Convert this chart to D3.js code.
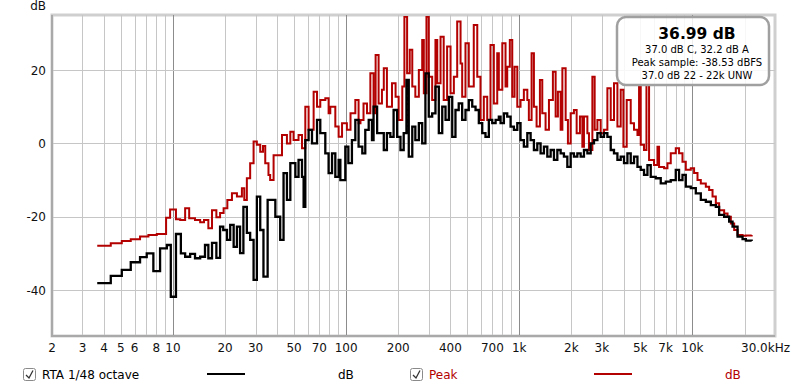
<!DOCTYPE html>
<html>
<head>
<meta charset="utf-8">
<script src="https://cdn.jsdelivr.net/npm/d3@7/dist/d3.min.js"></script>
<style>
  body { margin: 0; background: #fff; }
  text { font-family: "DejaVu Sans", sans-serif; }
</style>
</head>
<body>
<script>
"use strict";

// RTA 1/48 octave (black)
const rtaFreq = [
  3.65, 4.37, 5.06, 5.70, 6.45, 7.05, 7.70, 8.42, 9.21, 9.71,
  10.4, 11.1, 11.75, 12.56, 13.4, 14.35, 15.3, 16.0, 16.8, 17.8,
  18.7, 19.5, 20.5, 21.4, 22.4, 23.4, 24.4, 25.5, 26.7, 27.9,
  29.2, 30.5, 31.9, 33.3, 35.2, 37.3, 39.0, 41.6, 43.5, 45.5,
  47.6, 50.9, 53.1, 55.6, 56.8, 58.1, 60.7, 63.5, 67.9, 70.9,
  75.8, 79.2, 82.9, 86.6, 90.5, 92.6, 98.9, 103, 108, 113,
  118, 124, 129, 135, 141, 144, 151, 158, 165, 172,
  180, 188, 197, 206, 215, 223, 230, 241, 251, 263,
  275, 287, 300, 314, 328, 343, 359, 375, 392, 410,
  428, 447, 468, 489, 511, 535, 559, 584, 611, 638,
  667, 698, 730, 762, 780, 815, 852, 891, 931, 974,
  1017, 1063, 1113, 1163, 1215, 1271, 1328, 1388, 1452, 1518,
  1586, 1659, 1734, 1811, 1895, 1981, 2069, 2165, 2262, 2364,
  2474, 2585, 2701, 2827, 2953, 3086, 3228, 3375, 3525, 3689,
  3854, 4027, 4214, 4403, 4601, 4815, 5030, 5255, 5500, 5746,
  6141, 6565, 7018, 7499, 8016, 8375, 8765, 9159, 9788, 10464,
  11184, 11954, 12777, 13655, 14269, 15253, 16302, 17058, 18232, 19486,
  20362, 22000
];
const rtaDb = [
  -38.1, -36.1, -34.5, -32.4, -31.0, -30.0, -34.8, -28.6, -27.7, -41.8,
  -24.7, -30.0, -30.9, -30.1, -31.3, -30.9, -27.7, -31.3, -27.1, -31.2,
  -22.7, -23.6, -26.3, -22.2, -28.2, -22.7, -29.9, -17.3, -24.4, -26.3,
  -37.2, -14.5, -23.6, -36.3, -15.4, -15.4, -20.0, -26.3, -8.1, -15.4,
  -5.4, -9.1, -4.5, -9.1, -17.3, 0.9, 3.7, 0.0, 6.4, 2.8,
  -2.7, -8.1, -2.7, -9.1, -4.5, -10.0, -0.9, -5.4, 0.9, 6.4,
  -0.9, -2.7, 3.7, 6.4, 0.9, 10.0, 2.8, 2.8, -1.8, 2.8,
  1.8, 9.1, 1.8, -1.8, 2.8, 17.3, -3.6, 4.6, 0.9, 5.5,
  0.0, 19.1, 7.3, 8.2, 15.5, 2.8, 10.0, 6.4, 12.7, 1.8,
  9.1, 10.9, 6.4, 9.1, 11.8, 10.0, 9.1, 5.5, 2.8, 1.8,
  6.4, 5.5, 6.4, 7.3, 5.5, 8.2, 7.3, 4.6, 3.7, 5.5,
  0.9, -0.9, 2.8, 0.9, -1.8, 0.0, -2.7, -0.9, -3.6, -1.8,
  -4.5, -1.8, -2.7, -3.6, -6.4, -2.7, -3.6, -2.7, -3.6, -1.8,
  -2.7, 0.0, 0.9, 2.8, 1.8, 2.8, 1.8, -1.8, -2.7, -4.5,
  -3.6, -5.4, -2.7, -5.4, -3.6, -6.4, -7.2, -8.6, -5.9, -9.1,
  -9.5, -10.9, -10.4, -10.0, -7.2, -10.0, -8.6, -11.8, -12.2, -13.6,
  -15.4, -15.9, -16.8, -17.3, -19.5, -20.0, -21.3, -22.7, -25.4, -26.1,
  -26.5, -26.6
];

// Peak (red)
const peakFreq = [
  3.65, 4.37, 5.06, 5.70, 6.45, 7.21, 8.06, 9.12, 9.62, 10.4,
  11.0, 11.75, 12.4, 13.4, 14.35, 15.1, 16.0, 16.8, 17.8, 18.7,
  19.6, 20.6, 21.9, 23.4, 25.0, 25.8, 26.7, 27.9, 29.2, 30.5,
  31.9, 33.1, 34.1, 35.6, 36.4, 38.1, 39.9, 42.6, 45.5, 47.6,
  49.7, 53.1, 55.6, 58.1, 60.7, 64.9, 67.9, 70.9, 75.8, 79.2,
  81.0, 86.6, 90.5, 94.7, 101, 106, 113, 118, 121, 126,
  132, 138, 144, 148, 154, 161, 165, 172, 184, 193,
  201, 211, 217, 225, 233, 241, 251, 263, 275, 281,
  291, 300, 314, 328, 336, 351, 366, 383, 401, 419,
  438, 458, 468, 489, 511, 546, 572, 597, 624, 653,
  682, 713, 746, 762, 798, 833, 852, 882, 911, 939,
  974, 1017, 1063, 1113, 1136, 1178, 1215, 1259, 1316, 1358,
  1419, 1484, 1564, 1622, 1672, 1734, 1774, 1853, 1910, 1981,
  2069, 2145, 2241, 2314, 2364, 2474, 2527, 2644, 2726, 2827,
  2953, 3086, 3228, 3375, 3525, 3689, 3854, 3995, 4174, 4403,
  4601, 4815, 4919, 5030, 5255, 5427, 5620, 6004, 6284, 6419,
  6862, 7178, 7499, 8016, 8375, 8765, 9159, 9788, 10228, 10703,
  11184, 11954, 12492, 13071, 13655, 14269, 15253, 15959, 16680, 17431,
  18232, 19486, 20362, 22000
];
const peakDb = [
  -27.9, -27.2, -26.6, -26.1, -25.4, -25.0, -24.7, -20.3, -18.0, -20.7,
  -20.9, -17.7, -20.4, -20.9, -21.5, -20.9, -23.1, -18.2, -20.1, -19.0,
  -17.7, -15.4, -13.6, -14.5, -12.2, -15.4, -9.5, -5.4, 0.5, -0.4,
  -2.3, -0.7, -5.4, -8.6, -10.0, -3.2, -3.2, 2.3, 0.0, 3.2,
  0.9, 2.3, -1.3, 10.0, 3.7, 14.1, 10.0, 11.8, 12.3, 8.2,
  10.0, 4.6, 1.8, 5.5, 3.7, 8.2, 11.8, 5.5, 6.4, 10.9,
  8.2, 19.1, 8.2, 24.1, 10.9, 14.6, 20.5, 10.0, 16.4, 12.7,
  6.4, 15.5, 34.5, 19.1, 25.5, 15.5, 12.7, 20.0, 28.2, 13.7,
  34.5, 18.2, 11.8, 28.2, 16.4, 29.1, 11.8, 26.4, 13.7, 18.2,
  33.2, 21.8, 12.7, 27.3, 15.5, 32.3, 18.2, 6.4, 12.7, 6.4,
  26.8, 10.9, 24.6, 14.6, 27.3, 15.5, 20.9, 28.2, 12.7, 20.9,
  10.0, 11.8, 14.6, 11.8, 6.4, 24.6, 10.0, 4.6, 17.3, 8.2,
  3.7, 11.8, 19.5, 7.3, 14.1, 3.7, 20.5, 6.4, 0.0, 8.2,
  9.1, 2.8, 7.3, -0.9, 7.3, 2.8, -1.8, 18.2, 3.7, 6.4,
  2.8, 3.7, 15.0, 6.4, 16.4, 4.6, 14.6, -0.9, 11.8, 5.5,
  3.7, 2.3, 15.4, -0.4, -1.8, 15.9, -4.5, -5.9, -0.9, -6.4,
  -6.8, -5.4, -2.7, -1.3, -2.7, -5.0, -7.2, -6.8, -8.1, -10.0,
  -10.9, -11.8, -12.7, -14.5, -16.3, -18.2, -19.1, -20.0, -21.8, -23.6,
  -25.0, -25.2, -25.1, -25.0
];

const freqTicks = [2, 3, 4, 5, 6, 8, 10, 20, 30, 50, 70, 100, 200, 400, 700,
  1000, 2000, 3000, 5000, 7000, 10000];
const freqLabels = ["2", "3", "4", "5", "6", "8", "10", "20", "30", "50", "70", "100",
  "200", "400", "700", "1k", "2k", "3k", "5k", "7k", "10k"];
const dbTicks = [-40, -20, 0, 20];
const infoLines = ["36.99 dB", "37.0 dB C, 32.2 dB A", "Peak sample: -38.53 dBFS",
  "37.0 dB 22 - 22k UNW"];

const red = "#b30000";

let svg = d3
  .select("body")
  .append("svg")
  .attr("width", 800)
  .attr("height", 390);

const x = d3.scaleLog().domain([2, 30000]).range([52, 775]);
const y = d3.scaleLinear().domain([-52.5, 35]).range([336, 15]);

// plot background + frame
svg.append("rect")
  .attr("x", 52).attr("y", 15)
  .attr("width", 723).attr("height", 321)
  .attr("fill", "#fff")
  .attr("stroke", "#cfcfcf")
  .attr("stroke-width", 3);

// vertical grid: every 1..9 step in each decade
let gridFreqs = [];
[1, 10, 100, 1000, 10000].forEach(d => {
  for (let m = 1; m <= 9; m++) {
    let f = m * d;
    if (f > 2 && f < 30000) gridFreqs.push(f);
  }
});

let grid = svg.append("g");
grid.selectAll(".vgrid")
  .data(gridFreqs)
  .enter()
  .append("line")
  .attr("x1", d => Math.round(x(d)) + 0.5)
  .attr("x2", d => Math.round(x(d)) + 0.5)
  .attr("y1", 15)
  .attr("y2", 336)
  .attr("stroke", d => [10, 100, 1000, 10000].includes(d) ? "#8c8c8c" : "#c6c6c6")
  .attr("stroke-width", 1);

grid.selectAll(".hgrid")
  .data(dbTicks)
  .enter()
  .append("line")
  .attr("x1", 52)
  .attr("x2", 775)
  .attr("y1", d => Math.round(y(d)) + 0.5)
  .attr("y2", d => Math.round(y(d)) + 0.5)
  .attr("stroke", "#c6c6c6");

// darker left / bottom edge
svg.append("path")
  .attr("d", "M52,15 L52,336 L775,336")
  .attr("fill", "none")
  .attr("stroke", "#a9a9a9")
  .attr("stroke-width", 2);

svg.append("clipPath")
  .attr("id", "plotClip")
  .append("rect")
  .attr("x", 53).attr("y", 16)
  .attr("width", 721).attr("height", 319);

const line = d3.line()
  .x(d => x(d[0]))
  .y(d => y(d[1]))
  .curve(d3.curveStepAfter);

let traces = svg.append("g").attr("clip-path", "url(#plotClip)");

traces.append("path")
  .datum(d3.zip(peakFreq, peakDb))
  .attr("d", line)
  .attr("fill", "none")
  .attr("stroke", red)
  .attr("stroke-width", 2);

traces.append("path")
  .datum(d3.zip(rtaFreq, rtaDb))
  .attr("d", line)
  .attr("fill", "none")
  .attr("stroke", "#000")
  .attr("stroke-width", 2.3);

// axis labels
svg.append("g")
  .selectAll("text")
  .data(freqTicks)
  .enter()
  .append("text")
  .attr("x", d => x(d))
  .attr("y", 352)
  .attr("text-anchor", "middle")
  .attr("font-size", 12)
  .attr("fill", "#111")
  .text((d, i) => freqLabels[i]);

svg.append("text")
  .attr("x", 790)
  .attr("y", 352)
  .attr("text-anchor", "end")
  .attr("font-size", 12)
  .attr("fill", "#111")
  .text("30.0kHz");

svg.append("g")
  .selectAll("text")
  .data(dbTicks)
  .enter()
  .append("text")
  .attr("x", 46)
  .attr("y", d => y(d) + 4.5)
  .attr("text-anchor", "end")
  .attr("font-size", 12)
  .attr("fill", "#111")
  .text(d => d);

svg.append("text")
  .attr("x", 46)
  .attr("y", 10)
  .attr("text-anchor", "end")
  .attr("font-size", 12)
  .attr("fill", "#111")
  .text("dB");

// info box
let info = svg.append("g");
info.append("rect")
  .attr("x", 617).attr("y", 17)
  .attr("width", 152).attr("height", 68)
  .attr("rx", 9)
  .attr("fill", "#fff")
  .attr("fill-opacity", 0.85)
  .attr("stroke", "#a0a0a0")
  .attr("stroke-width", 2.5);

info.selectAll("text")
  .data(infoLines)
  .enter()
  .append("text")
  .attr("x", 697)
  .attr("y", (d, i) => i == 0 ? 39 : 40 + i * 13)
  .attr("text-anchor", "middle")
  .attr("font-size", (d, i) => i == 0 ? 15.5 : 10)
  .attr("font-weight", (d, i) => i == 0 ? "bold" : "normal")
  .attr("fill", "#000")
  .text(d => d);

// legend
const legend = [
  { box: 23, label: "RTA 1/48 octave", lx: 42, color: "#000", sx: 207, ux: 338 },
  { box: 410, label: "Peak", lx: 429, color: red, sx: 594, ux: 725 }
];

let leg = svg.append("g").selectAll("g").data(legend).enter().append("g");

leg.append("rect")
  .attr("x", d => d.box + 0.5).attr("y", 368.5)
  .attr("width", 12).attr("height", 12)
  .attr("rx", 2)
  .attr("fill", "#fff")
  .attr("stroke", "#8a8a8a");

leg.append("path")
  .attr("d", d => `M${d.box + 3},${375} L${d.box + 6},${378} L${d.box + 10},${370.5}`)
  .attr("fill", "none")
  .attr("stroke", "#333")
  .attr("stroke-width", 1.3);

leg.append("text")
  .attr("x", d => d.lx)
  .attr("y", 379)
  .attr("font-size", 12)
  .attr("fill", d => d.color)
  .text(d => d.label);

leg.append("line")
  .attr("x1", d => d.sx).attr("x2", d => d.sx + 38)
  .attr("y1", 374).attr("y2", 374)
  .attr("stroke", d => d.color)
  .attr("stroke-width", 2);

leg.append("text")
  .attr("x", d => d.ux)
  .attr("y", 379)
  .attr("font-size", 12)
  .attr("fill", d => d.color)
  .text("dB");
</script>
</body>
</html>
